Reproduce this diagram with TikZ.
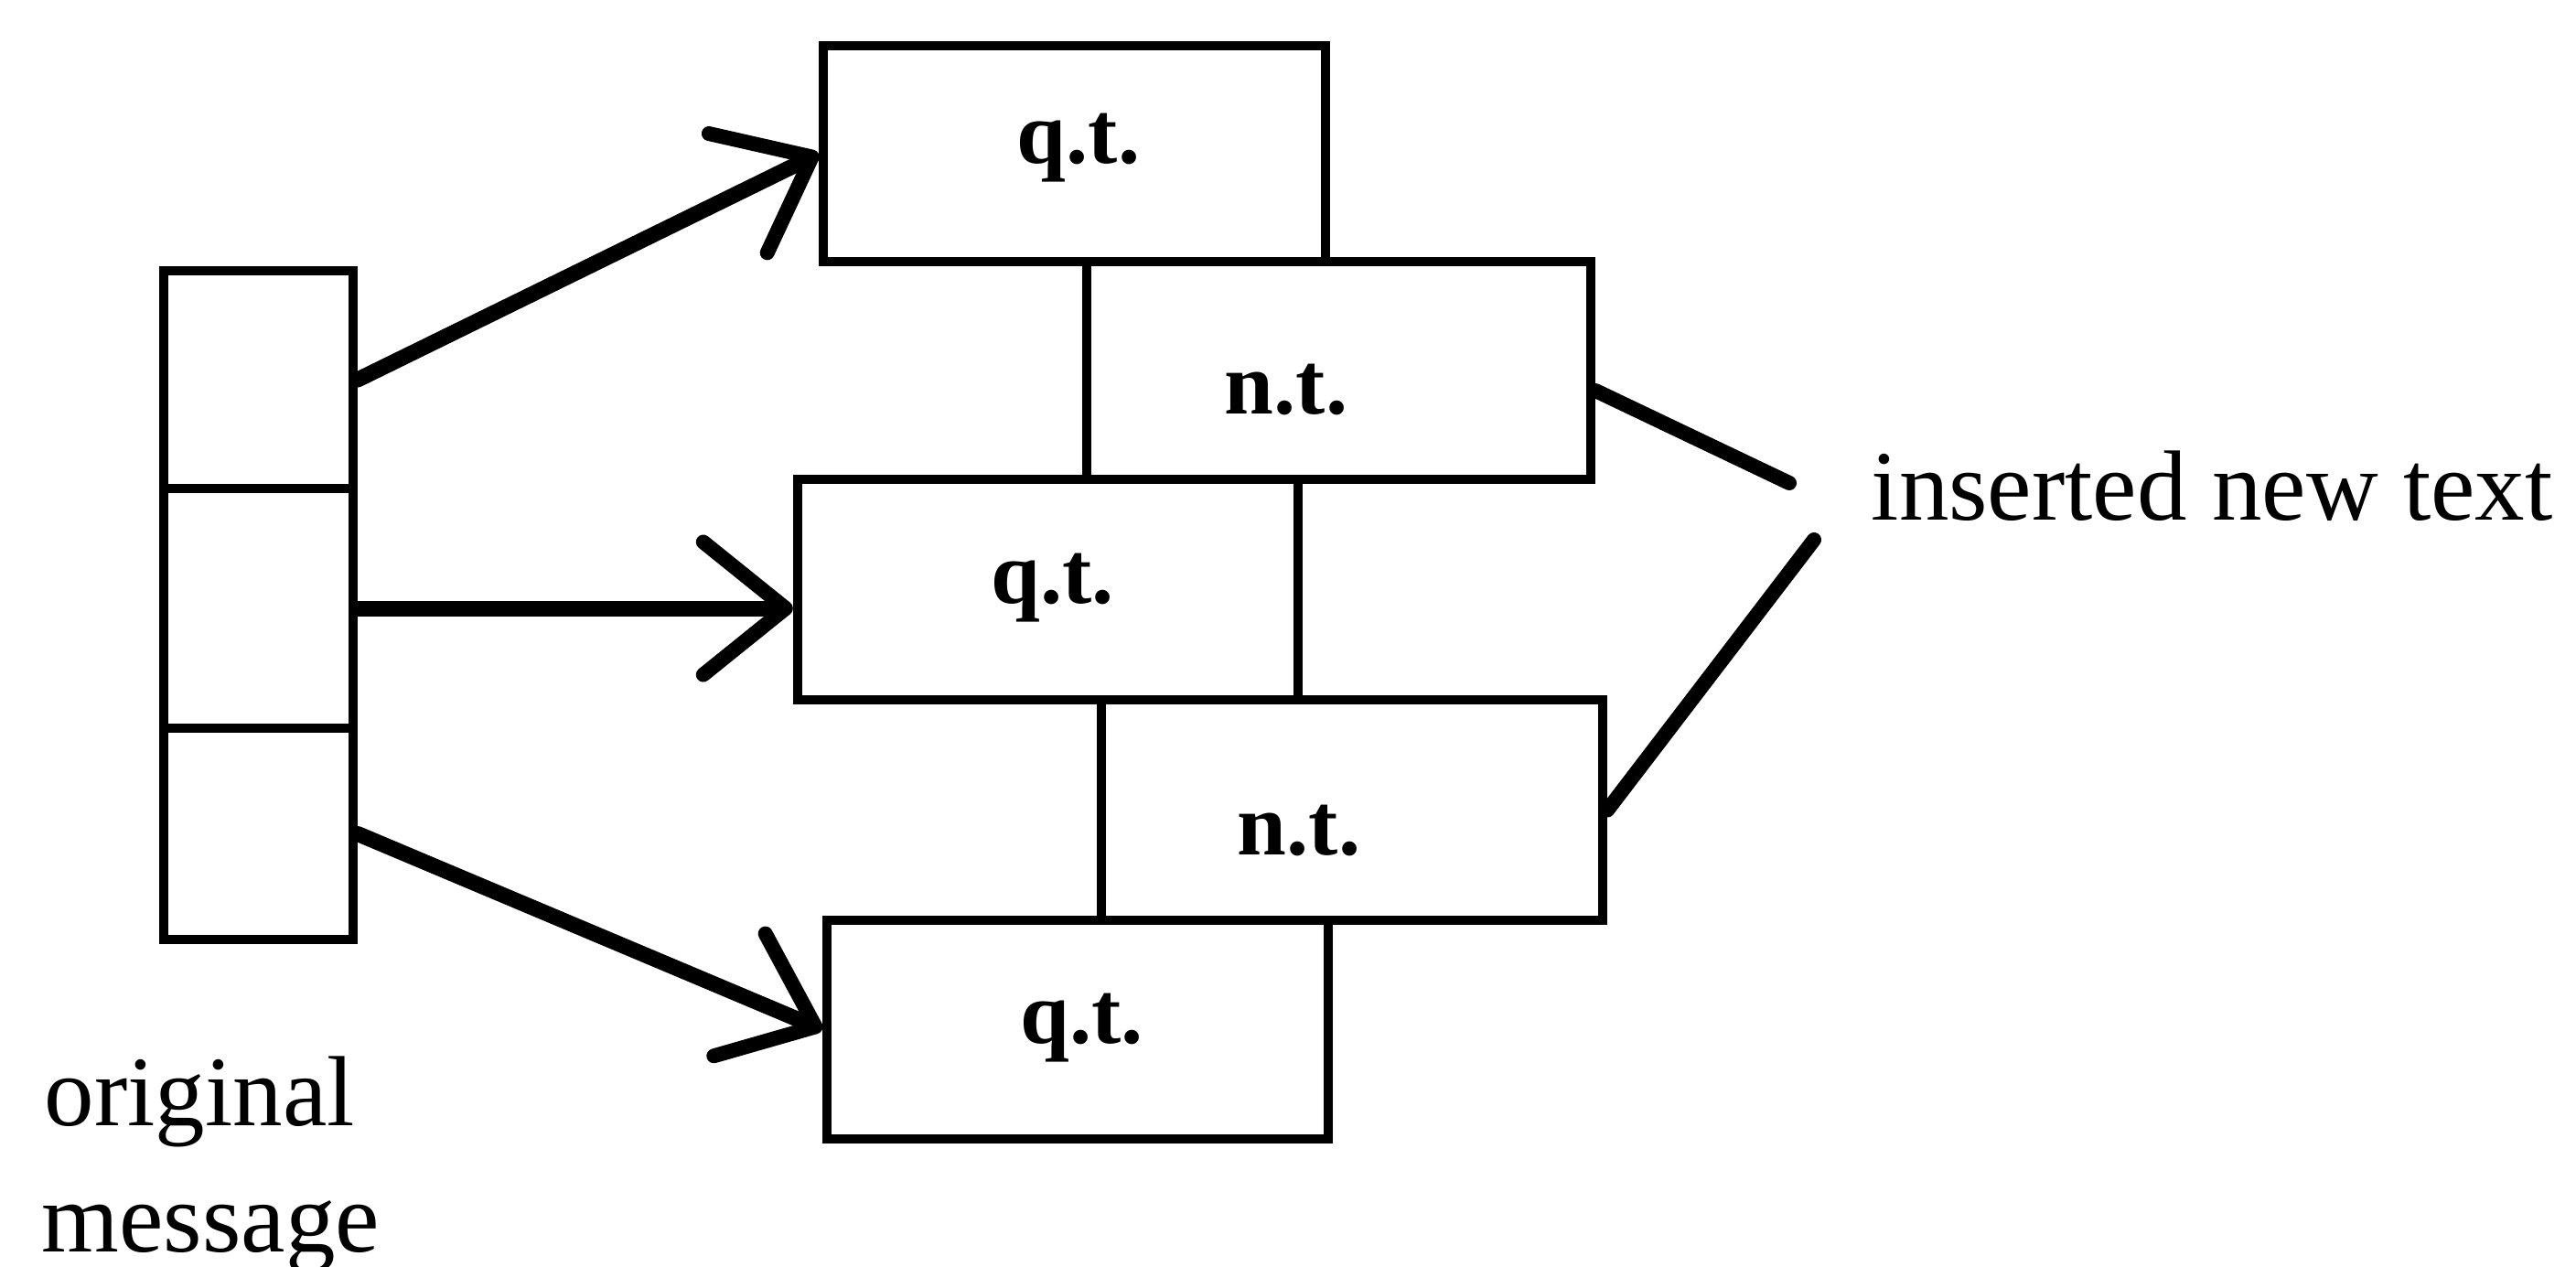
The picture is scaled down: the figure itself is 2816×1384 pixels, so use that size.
\documentclass[tikz,border=0pt]{standalone}
\usepackage{fontspec}
\setmainfont{Liberation Serif}
\usetikzlibrary{arrows.meta,calc}
\begin{document}
\begin{tikzpicture}[x=0.01cm,y=-0.01cm,
  box/.style={draw,line width=0.1cm,rectangle,inner sep=0pt},
  lbl/.style={inner sep=0pt,anchor=base,font=\fontsize{27.5pt}{33pt}\selectfont\bfseries},
  txt/.style={inner sep=0pt,anchor=base west,font=\fontsize{31pt}{38pt}\selectfont},
  arr/.style={line width=0.17cm,line cap=round,-{Straight Barb[length=0.9cm,width=1.45cm,line width=0.16cm,round]}},
  lnk/.style={line width=0.16cm,line cap=round}]
\useasboundingbox (0,0) rectangle (2816,1384);
% original message column
\node[box,minimum width=2.07cm,minimum height=2.38cm] (m1) at (282.5,415) {};
\node[box,minimum width=2.07cm,minimum height=2.62cm] (m2) at (282.5,665) {};
\node[box,minimum width=2.07cm,minimum height=2.31cm] (m3) at (282.5,911.5) {};
% stacked boxes
\node[box,minimum width=5.49cm,minimum height=2.36cm] (qt1) at (1174.5,168) {};
\node[box,minimum width=5.51cm,minimum height=2.38cm] (nt1) at (1463.5,405) {};
\node[box,minimum width=5.47cm,minimum height=2.41cm] (qt2) at (1145.5,644.5) {};
\node[box,minimum width=5.48cm,minimum height=2.41cm] (nt2) at (1478,885.5) {};
\node[box,minimum width=5.48cm,minimum height=2.39cm] (qt3) at (1178,1125.5) {};
% labels
\node[lbl] (lqt1) at (1179,178) {q.t.};
\node[lbl] (lnt1) at (1406,452) {n.t.};
\node[lbl] (lqt2) at (1151,659) {q.t.};
\node[lbl] (lnt2) at (1420,934) {n.t.};
\node[lbl] (lqt3) at (1183,1140) {q.t.};
% texts
\node[txt] (ins) at (2045,568) {inserted new text};
\node[txt] (orig) at (48,1230) {original};
\node[txt] (msg) at (45,1368) {message};
% arrows
\draw[arr] (m1.east) -- (qt1.west);
\draw[arr] (m2.east) -- (m2.east -| qt2.west);
\draw[arr] (m3.east) -- (qt3.west);
% links to label
\coordinate (c1) at (1956,528);
\coordinate (c2) at (1983,590);
\draw[lnk] ([yshift=-0.22cm]nt1.east) -- (c1);
\draw[lnk] (nt2.east) -- (c2);
\end{tikzpicture}
\end{document}
